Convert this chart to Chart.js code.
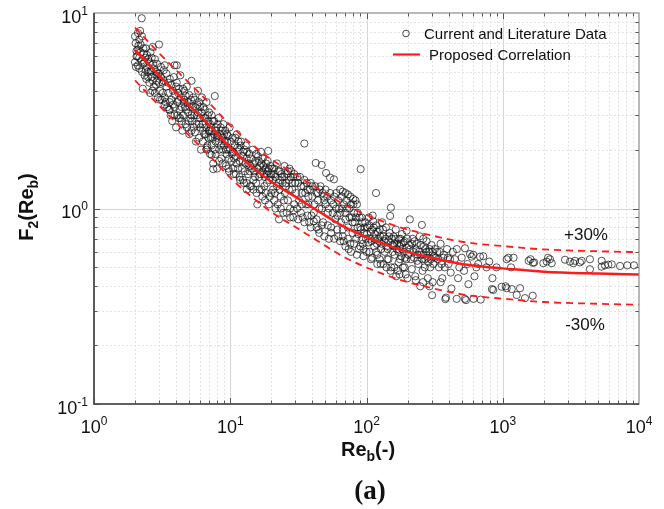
<!DOCTYPE html>
<html>
<head>
<meta charset="utf-8">
<script src="https://cdn.jsdelivr.net/npm/chart.js@4.4.1/dist/chart.umd.min.js"></script>
<style>
  html, body { margin: 0; padding: 0; background: #fff; }
  #wrap { width: 664px; height: 509px; }
</style>
</head>
<body>
<div id="wrap"><canvas id="chart" width="664" height="509"></canvas></div>
<script>
// Current and literature data: [Re_b, F2(Re_b)]
const measured = [
  [2.0,7.6],[2.02,7.0],[2.05,6.4],[2.0,5.6],[2.03,5.3],[2.08,6.0],[2.1,7.9],[2.12,6.8],[2.15,7.3],[2.18,8.1],
  [2.24,9.4],[2.2,6.3],[2.22,5.7],[2.25,5.0],[2.28,4.1],[2.3,5.5],[2.32,6.2],[2.35,4.8],[2.38,5.9],[2.4,6.6],
  [2.42,4.6],[2.45,5.3],[2.48,5.0],[2.5,5.8],[2.15,5.9],[2.1,5.4],
  [2.05,6.0],[2.1,6.5],[2.15,5.2],[2.2,6.9],[2.25,7.6],[2.3,6.6],[2.35,5.6],[2.4,5.1],[2.45,6.1],[2.5,4.7],
  [2.55,5.6],[2.6,5.0],[2.65,5.9],[2.7,4.5],[2.75,5.2],[2.8,5.8],[2.85,4.3],[2.9,5.5],[2.95,4.9],[3.0,4.4],
  [2.55,4.4],[2.6,6.3],[2.62,5.1],[2.65,4.7],[2.7,6.7],[2.72,5.5],[2.75,4.2],[2.8,3.9],[2.85,5.0],[2.9,4.5],
  [2.95,3.7],[3.0,6.9],[3.0,4.9],[3.05,4.0],[3.1,5.3],[3.15,3.6],[3.2,4.4],[2.58,3.9],[2.68,4.0],[2.88,4.8],
  [3.25,5.1],[3.3,5.4],[3.35,3.5],[3.4,4.2],[3.45,3.3],[3.5,3.9],[3.6,4.6],[3.65,3.0],[3.7,3.6],[3.8,4.0],
  [3.9,5.4],[3.9,3.3],[4.0,2.6],[4.05,4.4],[4.1,3.0],[4.2,3.6],[4.3,4.8],[4.3,2.9],[4.4,3.3],[4.5,4.1],
  [3.55,3.2],[3.75,2.8],[4.15,3.9],[4.45,2.5],[4.05,5.4],
  [3.1,4.7],[3.2,3.9],[3.25,4.5],[3.3,3.7],[3.4,4.9],[3.5,4.4],[3.6,3.5],[3.7,4.3],[3.8,3.4],[3.85,4.7],
  [3.95,3.8],[4.0,4.2],[4.1,3.5],[4.2,4.1],[4.25,3.2],[4.35,3.7],[4.5,3.0],[4.55,3.5],[4.6,4.0],[4.75,3.2],
  [3.05,3.6],[3.3,3.4],[3.6,3.2],[3.9,3.0],[4.2,2.9],[4.4,2.8],[4.8,2.6],
  [4.6,3.6],[4.7,2.7],[4.71,3.77],[4.8,4.2],[4.9,3.1],[5.0,2.4],[5.0,3.8],[5.1,2.9],[5.2,4.5],[5.3,3.3],[5.4,2.6],
  [5.5,3.6],[5.6,2.2],[5.7,3.0],[5.8,4.0],[5.9,2.7],[6.0,3.3],[6.1,2.0],[6.2,3.7],[6.3,2.5],[6.4,2.9],
  [4.65,3.3],[5.25,2.8],[5.75,3.4],[6.05,2.6],
  [4.85,3.5],[4.95,2.8],[5.05,3.3],[5.15,3.6],[5.2,3.0],[5.35,3.7],[5.45,3.0],[5.55,3.3],[5.65,2.7],[5.8,3.1],
  [5.9,3.5],[6.0,2.9],[6.15,3.1],[6.25,2.7],[6.35,3.3],[6.45,2.4],[6.55,2.9],[6.65,2.6],[6.85,3.0],[6.95,2.5],
  [5.2,2.5],[5.5,2.45],[5.9,2.3],[6.3,2.2],[6.7,2.0],[6.9,2.3],
  [6.5,3.2],[6.6,2.4],[6.7,3.5],[6.8,2.1],[6.9,2.8],[7.0,3.1],[7.1,1.9],[7.2,2.6],[7.3,3.0],[7.4,2.3],
  [7.5,1.7],[7.7,3.76],[7.6,2.8],[7.8,2.2],[7.9,2.5],[8.0,1.6],[8.2,2.9],[8.3,2.0],[8.5,2.6],[8.6,1.8],
  [8.8,2.3],[8.9,2.7],[9.0,2.1],[6.75,2.05],[7.05,2.5],[8.1,2.35],[7.5,1.59],[7.3,1.88],
  [7.1,2.7],[7.2,2.3],[7.35,2.5],[7.45,2.8],[7.6,2.4],[7.7,2.0],[7.85,2.6],[8.0,2.3],[8.1,2.7],[8.25,2.2],
  [8.4,2.4],[8.55,2.1],[8.7,2.5],[8.85,2.0],[9.0,2.4],[9.15,2.2],[9.3,2.0],[9.45,2.4],[9.65,2.0],[9.8,1.8],
  [7.3,2.1],[7.8,1.9],[8.3,1.75],[8.8,1.7],[9.3,1.65],[9.8,1.55],
  [9.2,2.5],[9.4,1.9],[9.5,2.2],[9.7,1.6],[9.9,2.6],[10,2.0],[10.2,1.75],[10.4,2.3],[10.6,1.5],[10.8,2.1],
  [11,1.85],[11.2,2.4],[11.4,1.6],[11.6,2.0],[11.8,1.4],[12,2.2],[12.3,1.75],[12.5,1.95],[12.8,1.55],[13,2.1],
  [9.6,2.35],[10.5,1.95],[11.5,2.2],[12.6,1.35],[13.2,1.8],
  [10.1,2.2],[10.3,1.9],[10.7,1.8],[10.9,2.3],[11.1,1.7],[11.3,2.05],[11.7,1.75],[11.9,2.1],[12.2,1.6],[12.4,1.85],
  [12.7,2.0],[12.9,1.7],[13.3,1.95],[13.6,1.7],[13.9,1.55],[14.2,1.8],[14.5,1.6],[14.9,1.7],[15.2,1.45],[15.5,1.9],
  [10.5,1.6],[11,1.5],[11.7,1.45],[12.4,1.4],[13.2,1.35],[14,1.3],[14.8,1.25],
  [13.5,1.5],[13.8,1.9],[14,1.65],[14.3,1.3],[14.6,2.0],[15,1.55],[15.3,1.75],[15.6,1.2],[16,1.85],[16.3,1.45],
  [16.6,1.65],[17,1.25],[17.3,1.8],[17.6,1.5],[18,1.1],[18.3,1.7],[18.6,1.35],[19,1.97],[19.2,1.6],[19.5,1.15],
  [19.8,1.45],[14.8,1.4],[15.8,1.05],[16.8,1.95],[17.8,1.3],[18.8,1.75],[13.2,1.25],
  [15.9,1.6],[16.2,1.75],[16.5,1.5],[16.9,1.7],[17.2,1.55],[17.5,1.65],[17.9,1.45],[18.2,1.6],[18.5,1.5],[18.9,1.55],
  [19.3,1.4],[19.7,1.65],[20,1.5],[20.5,1.4],[21,1.6],[21.5,1.45],[22,1.3],[22.5,1.55],[23,1.25],[23.8,1.5],
  [15.5,1.35],[16.4,1.25],[17.2,1.15],[18.2,1.2],[19.2,1.05],[20,1.2],
  [20.3,1.6],[20.6,1.25],[21,1.5],[21.5,1.0],[22,1.7],[22.5,1.35],[23,1.55],[23.5,1.15],[24,1.45],[24.5,0.95],
  [25,1.65],[25.5,1.3],[26,1.5],[26.5,1.1],[27,1.4],[27.5,0.9],[28,1.55],[28.5,1.25],[29,1.45],[29.5,1.05],
  [30,1.35],[21.2,1.2],[23.2,1.4],[25.2,1.2],[27.2,1.6],[29.2,0.98],[22.8,0.88],
  [21,1.1],[22.3,1.05],[23.5,1.0],[24.8,1.1],[26,0.95],[27.5,1.0],[29,0.9],
  [24.2,1.35],[25,1.45],[25.8,1.35],[26.5,1.55],[27,1.25],[27.8,1.45],[28.5,1.35],[29.5,1.5],[30.5,1.2],[31.5,1.35],
  [32.5,1.45],[33.5,1.05],[34.5,1.3],[35.5,1.2],[36.5,1.35],[37.5,1.15],[38.5,1.25],[40,1.3],[41.5,1.05],[43,1.2],
  [31,1.45],[32,1.1],[33,1.3],[34,0.9],[35,2.15],[35,1.4],[36,1.05],[37,1.25],[38,0.85],[39,1.35],
  [40,1.15],[41,0.95],[42.4,1.71],[42,1.3],[43,0.8],[44,1.2],[45,1.0],[46.9,1.67],[46,1.3],[48,0.85],
  [49,1.1],[50.5,1.52],[50,1.25],[31.5,0.88],[33.5,1.2],[37.5,1.05],[44.5,0.78],[47.5,1.2],[39.5,0.92],
  [31,1.0],[33,0.95],[35,0.85],[37,0.92],[39,0.8],[41,0.86],[43,0.88],[45,0.75],[47,0.82],[49,0.72],
  [44,1.1],[45.5,1.25],[47,1.0],[48.5,1.15],[50,1.05],[51.5,1.15],[53,1.0],[55,1.1],[56.5,0.95],[58,1.15],
  [60,1.0],[62,1.1],[64,0.95],[66,1.0],[68,1.05],[70,0.88],[72,1.0],[75,0.9],[77,1.05],[79,0.85],
  [52,0.95],[54,1.44],[54,1.2],[55,0.8],[57.7,1.41],[57,1.05],[59,0.88],[60,1.2],[62,0.72],[63,1.0],
  [65,0.85],[66,1.15],[68,0.68],[70,0.95],[71,1.1],[73,0.8],[75,1.0],[76,0.66],[78,0.9],[80,1.05],
  [53,0.7],[61,0.92],[67,0.78],[74,0.62],[79,0.75],
  [52,0.82],[55,0.75],[58,0.7],[61,0.78],[64,0.68],[67,0.72],[70,0.64],[73,0.7],[77,0.6],[81,0.66],
  [85,0.58],[90,0.64],[95,0.62],
  [64,1.25],[67,1.22],[70,1.2],[73,1.18],[76,1.15],[80,1.12],[83,1.1],[85,1.05],
  [82,0.85],[84,0.7],[86,0.95],[88,0.62],[90.6,1.59],[90,0.8],[92,0.9],[94,0.66],[96,0.75],[98,0.85],
  [100,0.6],[102,0.8],[104,0.9],[106,0.7],[108,0.55],[110,0.78],[112,0.86],[114,0.64],[117.5,1.2],[116,0.74],
  [118,0.82],[120,0.58],[122,0.7],[125,0.78],[128,0.62],[130,0.85],[87,0.74],[95,0.57],[103,0.67],[111,0.92],
  [119,0.66],[127,0.52],[92,0.69],
  [81,0.95],[84,0.9],[86,0.8],[89,0.9],[91,0.78],[93,0.85],[97,0.8],[99,0.7],[101,0.74],[105,0.82],
  [107,0.76],[109,0.68],[113,0.8],[115,0.7],[121,0.76],[124,0.68],[126,0.72],[129,0.66],[132,0.78],[135,0.68],
  [105,0.6],[110,0.56],[118,0.6],[125,0.55],[133,0.52],[145,0.55],[160,0.5],[172,0.53],[190,0.5],
  [133,0.72],[136,0.6],[139,0.8],[142,0.55],[145,0.68],[149,0.916],[151,1.01],[148,0.75],[152,0.5],[155,0.65],
  [158,0.72],[161,0.58],[164,0.78],[167,0.62],[170,0.48],[173,0.7],[176,0.55],[179,0.66],[182,0.74],[185,0.5],
  [188,0.6],[191,0.68],[194,0.46],[197,0.77],[198,0.63],[140,0.64],[160,0.66],[180,0.57],[196,0.55],[165,0.45],
  [138,0.7],[143,0.62],[146,0.72],[153,0.7],[156,0.6],[159,0.64],[163,0.7],[168,0.66],[172,0.6],[175,0.64],
  [178,0.7],[183,0.62],[187,0.67],[192,0.56],[199,0.7],[203,0.58],[210,0.62],[216,0.66],[223,0.56],[230,0.62],
  [150,0.48],[175,0.46],[200,0.44],[230,0.43],[260,0.42],[290,0.4],[120,0.52],[140,0.5],
  [205,0.65],[208,0.88],[212,0.55],[218,0.7],[222,0.6],[228,0.45],[234,0.66],[240,0.52],[246,0.72],[255,0.824],
  [252,0.58],[258,0.48],[264,0.64],[270,0.55],[276,0.68],[282,0.44],[288,0.6],[294,0.5],[300,0.65],[306,0.42],
  [312,0.57],[318,0.62],[215,0.49],[237,0.58],[261,0.7],[285,0.53],[303,0.36],[225,0.68],[248,0.4],[270,0.62],
  [236,0.54],[243,0.6],[250,0.65],[256,0.55],[262,0.58],[268,0.5],[275,0.6],[280,0.56],[290,0.62],[296,0.55],
  [305,0.6],[310,0.52],[320,0.56],[335,0.55],[345,0.6],[355,0.52],[365,0.56],[375,0.5],[395,0.56],[410,0.55],
  [330,0.6],[340,0.5],[350,0.66],[360,0.44],[370,0.58],[379,0.344],[383,0.35],[390,0.62],[400,0.52],[415,0.47],
  [430,0.6],[445,0.55],[459,0.345],[460,0.62],[480,0.5],[500,0.56],[528,0.626],[527,0.345],[537,0.34],[550,0.52],
  [575,0.585],[592,0.567],[608,0.58],[610,0.345],[640,0.5],[681,0.567],[689,0.342],[720,0.57],[760,0.5],[796,0.535],
  [833,0.387],[840,0.44],[852,0.383],[900,0.5],[470,0.44],[520,0.48],[560,0.41],[620,0.45],[660,0.52],[350,0.42],
  [420,0.39],
  [982,0.398],[1069,0.391],[1069,0.55],[1100,0.56],[1164,0.387],[1200,0.56],[1266,0.361],[1339,0.391],[1456,0.348],
  [1550,0.54],[1600,0.55],[1660,0.358],[1667,0.527],[1700,0.53],[1985,0.525],[2100,0.535],[2150,0.56],[2222,0.55],
  [2287,0.525],[2864,0.547],[3117,0.535],[3298,0.525],[3390,0.54],[3687,0.53],[3795,0.54],[4365,0.55],[4365,0.489],
  [5321,0.54],[5321,0.504],[5623,0.512],[5957,0.516],[6310,0.518],[7262,0.508],[8211,0.512],[9190,0.512],
  [1050,0.4],[1150,0.5]
];

// Proposed correlation F2(Re_b)
const corrRe = [2, 3, 5, 7, 10, 15, 20, 30, 50, 70, 100, 150, 200, 300, 500, 700, 1000, 2000, 5000, 10000];
const corrF2 = [6.47, 4.8, 3.37, 2.67, 2.05, 1.6, 1.37, 1.15, 0.92, 0.8, 0.713, 0.64, 0.6, 0.56, 0.52, 0.505, 0.494, 0.475, 0.465, 0.46];

// +/-30% band around the correlation
const bandUp = 1.3;
const bandDown = 0.7;

const xRange = [1, 10000];
const yRange = [0.1, 10];
const xLabelExp = [0, 1, 2, 3, 4];
const yLabelExp = [-1, 0, 1];

const RED = '#ff1a1a';
const SANS = '"Liberation Sans", Arial, sans-serif';

const pts = (xs, ys) => xs.map((x, i) => ({ x: x, y: ys[i] }));

// grid, frame, ticks and text drawn around the plot area
const decor = {
  id: 'decor',
  beforeDatasetsDraw(chart) {
    const { ctx, chartArea: a, scales: { x, y } } = chart;
    ctx.save();
    ctx.lineWidth = 1;
    for (let d = 0; d < 4; d++) {
      for (let m = 1; m <= 9; m++) {
        const v = m * Math.pow(10, d);
        if (v <= xRange[0] || v >= xRange[1]) continue;
        const px = Math.round(x.getPixelForValue(v)) + 0.5;
        ctx.strokeStyle = m === 1 ? '#d6d6d6' : '#e3e3e3';
        ctx.setLineDash(m === 1 ? [] : [2, 2]);
        ctx.beginPath(); ctx.moveTo(px, a.top); ctx.lineTo(px, a.bottom); ctx.stroke();
      }
    }
    for (let d = -1; d < 1; d++) {
      for (let m = 1; m <= 9; m++) {
        const v = m * Math.pow(10, d);
        if (v <= yRange[0] || v >= yRange[1]) continue;
        const py = Math.round(y.getPixelForValue(v)) + 0.5;
        ctx.strokeStyle = m === 1 ? '#d6d6d6' : '#e3e3e3';
        ctx.setLineDash(m === 1 ? [] : [2, 2]);
        ctx.beginPath(); ctx.moveTo(a.left, py); ctx.lineTo(a.right, py); ctx.stroke();
      }
    }
    ctx.restore();
  },
  afterDraw(chart) {
    const { ctx, chartArea: a, scales: { x, y } } = chart;
    ctx.save();
    ctx.setLineDash([]);

    // inward tick marks on all four sides
    ctx.strokeStyle = '#555';
    ctx.lineWidth = 1;
    for (let d = 0; d < 4; d++) {
      for (let m = 1; m <= 9; m++) {
        const v = m * Math.pow(10, d);
        const px = Math.round(x.getPixelForValue(v)) + 0.5;
        const len = m === 1 ? 6 : 3.5;
        ctx.beginPath();
        ctx.moveTo(px, a.bottom); ctx.lineTo(px, a.bottom - len);
        ctx.moveTo(px, a.top); ctx.lineTo(px, a.top + len);
        ctx.stroke();
      }
    }
    for (let d = -1; d < 1; d++) {
      for (let m = 1; m <= 9; m++) {
        const v = m * Math.pow(10, d);
        const py = Math.round(y.getPixelForValue(v)) + 0.5;
        const len = m === 1 ? 6 : 3.5;
        ctx.beginPath();
        ctx.moveTo(a.left, py); ctx.lineTo(a.left + len, py);
        ctx.moveTo(a.right, py); ctx.lineTo(a.right - len, py);
        ctx.stroke();
      }
    }

    // axes box
    ctx.strokeStyle = '#8a8a8a';
    ctx.lineWidth = 1.2;
    ctx.strokeRect(a.left, a.top, a.right - a.left, a.bottom - a.top);
    ctx.strokeStyle = '#444';
    ctx.lineWidth = 1.6;
    ctx.beginPath();
    ctx.moveTo(a.left, a.top); ctx.lineTo(a.left, a.bottom); ctx.lineTo(a.right, a.bottom);
    ctx.stroke();

    // power-of-ten tick labels
    ctx.fillStyle = '#111';
    ctx.textBaseline = 'alphabetic';
    const base = '18px ' + SANS, sup = '12px ' + SANS;
    const pow = (e, left, baseline) => {
      ctx.font = base; ctx.textAlign = 'left';
      ctx.fillText('10', left, baseline);
      const w = ctx.measureText('10').width;
      ctx.font = sup;
      ctx.fillText(String(e), left + w, baseline - 8);
    };
    const powWidth = e => {
      ctx.font = base; const w = ctx.measureText('10').width;
      ctx.font = sup; return w + ctx.measureText(String(e)).width;
    };
    xLabelExp.forEach(e => {
      const px = x.getPixelForValue(Math.pow(10, e));
      pow(e, px - powWidth(e) / 2, a.bottom + 29);
    });
    yLabelExp.forEach(e => {
      const py = y.getPixelForValue(Math.pow(10, e));
      pow(e, a.left - 6 - powWidth(e), py + 9.5);
    });

    // axis titles with subscripts
    const runs = (parts, start, baseline) => {
      let cx = start;
      parts.forEach(([t, isSub]) => {
        ctx.font = isSub ? 'bold 14px ' + SANS : 'bold 20px ' + SANS;
        ctx.fillText(t, cx, baseline + (isSub ? 5 : 0));
        cx += ctx.measureText(t).width;
      });
      return cx - start;
    };
    const measure = parts => parts.reduce((s, [t, isSub]) => {
      ctx.font = isSub ? 'bold 14px ' + SANS : 'bold 20px ' + SANS;
      return s + ctx.measureText(t).width;
    }, 0);
    ctx.textAlign = 'left';
    const xTitle = [['Re', false], ['b', true], ['(-)', false]];
    runs(xTitle, 368 - measure(xTitle) / 2, 456);
    const yTitle = [['F', false], ['2', true], ['(Re', false], ['b', true], [')', false]];
    ctx.save();
    ctx.translate(33, 207);
    ctx.rotate(-Math.PI / 2);
    runs(yTitle, -measure(yTitle) / 2, 0);
    ctx.restore();

    // band labels
    ctx.font = '17px ' + SANS;
    ctx.textAlign = 'center';
    ctx.fillText('+30%', 586, 240);
    ctx.fillText('-30%', 585, 330);

    // legend
    ctx.textAlign = 'left';
    ctx.font = '15px ' + SANS;
    ctx.strokeStyle = '#444';
    ctx.lineWidth = 1;
    ctx.beginPath(); ctx.arc(406, 33.5, 3.3, 0, Math.PI * 2); ctx.stroke();
    ctx.fillText('Current and Literature Data', 424, 39);
    ctx.strokeStyle = RED;
    ctx.lineWidth = 2.2;
    ctx.beginPath(); ctx.moveTo(393, 54.5); ctx.lineTo(420, 54.5); ctx.stroke();
    ctx.fillText('Proposed Correlation', 429, 60);

    // panel caption
    ctx.font = 'bold 27px "Liberation Serif", "Times New Roman", serif';
    ctx.textAlign = 'center';
    ctx.fillText('(a)', 370, 499);
    ctx.restore();
  }
};

new Chart(document.getElementById('chart'), {
  data: {
    datasets: [
      {
        type: 'line',
        data: pts(corrRe, corrF2),
        borderColor: RED,
        borderWidth: 2.5,
        pointRadius: 0,
        cubicInterpolationMode: 'monotone',
        order: 0
      },
      {
        type: 'line',
        data: pts(corrRe, corrF2.map(v => v * bandUp)),
        borderColor: RED,
        borderWidth: 1.8,
        borderDash: [7, 5],
        pointRadius: 0,
        cubicInterpolationMode: 'monotone',
        order: 0
      },
      {
        type: 'line',
        data: pts(corrRe, corrF2.map(v => v * bandDown)),
        borderColor: RED,
        borderWidth: 1.8,
        borderDash: [7, 5],
        pointRadius: 0,
        cubicInterpolationMode: 'monotone',
        order: 0
      },
      {
        type: 'scatter',
        data: measured.map(([x, y]) => ({ x: x, y: y })),
        borderColor: 'rgba(20,20,20,0.8)',
        backgroundColor: 'rgba(0,0,0,0)',
        pointRadius: 3.6,
        pointBorderWidth: 0.9,
        order: 1
      }
    ]
  },
  options: {
    responsive: false,
    animation: false,
    layout: { padding: { left: 94, right: 25, top: 13, bottom: 105 } },
    plugins: { legend: { display: false }, tooltip: { enabled: false } },
    scales: {
      x: { type: 'logarithmic', min: xRange[0], max: xRange[1], display: false },
      y: { type: 'logarithmic', min: yRange[0], max: yRange[1], display: false }
    }
  },
  plugins: [decor]
});
</script>
</body>
</html>
